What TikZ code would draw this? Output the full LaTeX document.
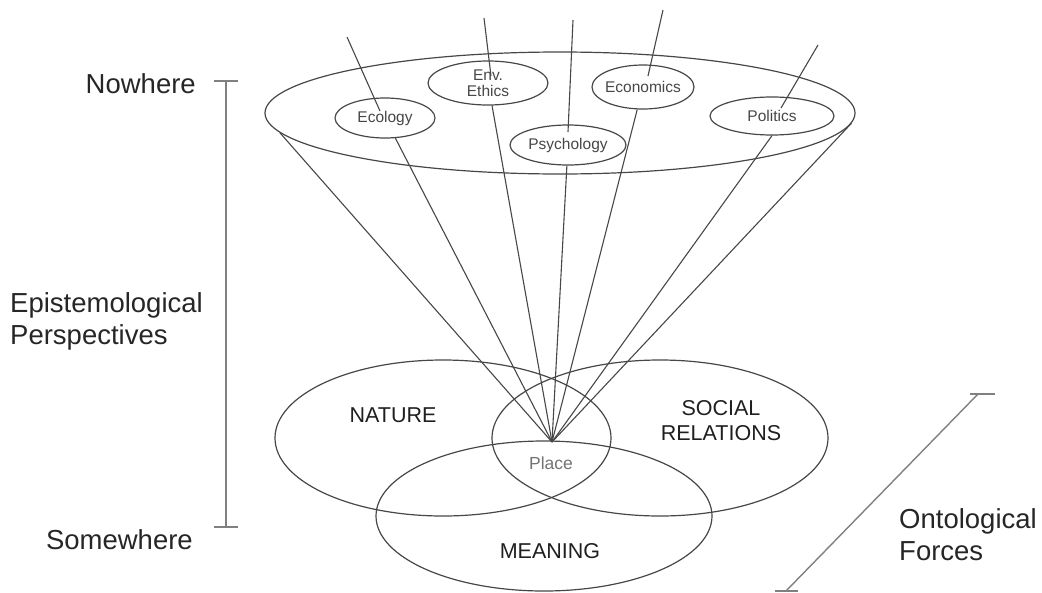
\documentclass[tikz,border=0pt]{standalone}
\usepackage{fontspec}
\setmainfont{Liberation Sans}
\usetikzlibrary{shapes.geometric}
\begin{document}
\begin{tikzpicture}[x=1pt,y=-1pt,
  ln/.style={draw=black!72, line width=1.1pt},
  ell/.style={ellipse, draw=black!72, line width=1.2pt, inner sep=0pt},
  smallell/.style={ell, fill=white},
  bigtxt/.style={text=black!85, font=\fontsize{27.5}{32}\selectfont, inner sep=0pt, align=left},
  midtxt/.style={text=black!88, font=\fontsize{21.5}{25}\selectfont, align=center, inner sep=0pt},
  smalltxt/.style={text=black!72, font=\fontsize{15.5}{15.5}\selectfont, align=center, inner sep=0pt},
  placetxt/.style={text=black!55, font=\fontsize{17.5}{18}\selectfont, inner sep=0pt},
  bar/.style={draw=black!50, line width=1.4pt}
]
\useasboundingbox (0,0) rectangle (1042,592);

% focal point
\coordinate (F) at (552,442);

% top ellipse (nowhere)
\node[ell, minimum width=590pt, minimum height=122pt] (top) at (560,113) {};

% bottom ellipses
\node[ell, minimum width=336pt, minimum height=156pt] (nature) at (443,438) {};
\node[ell, minimum width=336pt, minimum height=156pt] (social) at (660,438) {};
\node[ell, minimum width=336pt, minimum height=150pt] (meaning) at (544,516) {};

% small discipline ellipses
\node[smallell, minimum width=100pt, minimum height=40pt] (eco) at (385,118) {};
\node[smallell, minimum width=120pt, minimum height=44pt] (env) at (488,83) {};
\node[smallell, minimum width=116pt, minimum height=40pt] (psy) at (568,145) {};
\node[smallell, minimum width=102pt, minimum height=44pt] (econ) at (643,87) {};
\node[smallell, minimum width=124pt, minimum height=38pt] (pol) at (772,116) {};

% cone sides
\draw[ln] (top.184) -- (F);
\draw[ln] (top.358.4) -- (F);

% lower rays
\draw[ln] (eco) -- (F);
\draw[ln] (env) -- (F);
\draw[ln] (psy) -- (F);
\draw[ln] (econ) -- (F);
\draw[ln] (pol.south) -- (F);

% upper rays
\coordinate (ecoT) at (347,37);   \coordinate (ecoI) at (380,111);
\coordinate (envT) at (484,18);   \coordinate (envI) at (491,76);
\coordinate (psyT) at (573,20);   \coordinate (psyI) at (568,132);
\coordinate (econT) at (663,10);  \coordinate (econI) at (648,76);
\coordinate (polT) at (818,45);   \coordinate (polI) at (781,108);
\draw[ln] (ecoT) -- (ecoI);
\draw[ln] (envT) -- (envI);
\draw[ln] (psyT) -- (psyI);
\draw[ln] (econT) -- (econI);
\draw[ln] (polT) -- (polI);

% discipline labels
\node[smalltxt] (ecoL) at (eco) {Ecology};
\node[smalltxt] (envL) at (env) {Env.\\Ethics};
\node[smalltxt] (psyL) at (psy) {Psychology};
\node[smalltxt] (econL) at (econ) {Economics};
\node[smalltxt] (polL) at (pol) {Politics};

% bottom labels
\node[midtxt] (natL) at (393,415) {NATURE};
\node[midtxt] (socL) at (721,421) {SOCIAL\\RELATIONS};
\node[midtxt] (meanL) at (550,551) {MEANING};
\node[placetxt] (placeL) at (551,463) {Place};

% left scale
\coordinate (b1) at (226,81);
\coordinate (b2) at (226,527);
\coordinate (b1l) at (214,81);  \coordinate (b1r) at (238,81);
\coordinate (b2l) at (214,527); \coordinate (b2r) at (238,527);
\draw[bar] (b1) -- (b2);
\draw[bar] (b1l) -- (b1r);
\draw[bar] (b2l) -- (b2r);
\node[bigtxt, anchor=east] (nowhere) at (196,84) {Nowhere};
\node[bigtxt, anchor=west] (epi) at (10,321) {Epistemological\\Perspectives};
\node[bigtxt, anchor=east] (somewhere) at (193,540) {Somewhere};

% right scale
\coordinate (d1) at (978,394);
\coordinate (d2) at (786,591);
\coordinate (d1l) at (970,394); \coordinate (d1r) at (995,394);
\coordinate (d2l) at (775,591); \coordinate (d2r) at (798,591);
\draw[bar] (d1) -- (d2);
\draw[bar] (d1l) -- (d1r);
\draw[bar] (d2l) -- (d2r);
\node[bigtxt, anchor=west] (onto) at (899,535) {Ontological\\Forces};
\end{tikzpicture}
\end{document}
